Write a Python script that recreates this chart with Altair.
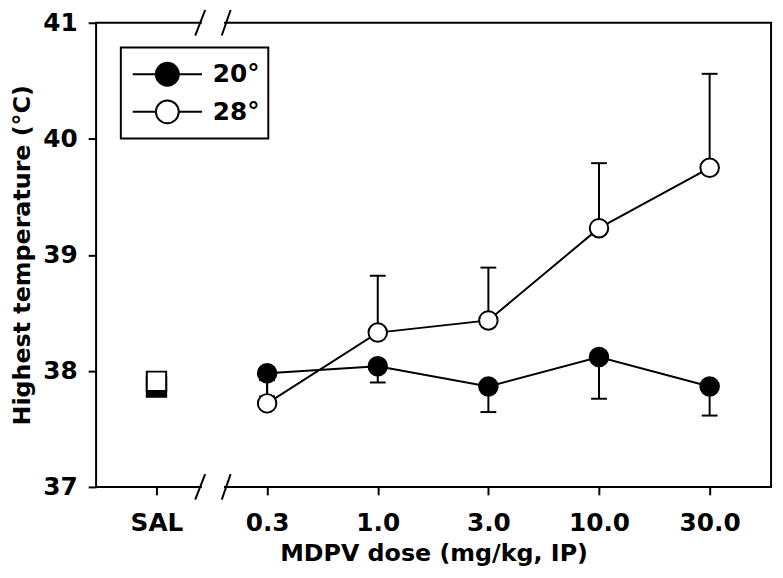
import json
import altair as alt
import pandas as pd

# ---- data ----
x_labels = ["SAL", "0.3", "1.0", "3.0", "10.0", "30.0"]
x_pos = [0, 1, 2, 3, 4, 5]
dose_pos = [1, 2, 3, 4, 5]
series_names = ["20°", "28°"]

t20_mean = [37.98, 38.04, 37.865, 38.12, 37.865]
t20_sem = [0.20, 0.14, 0.22, 0.36, 0.25]
t28_mean = [37.72, 38.33, 38.435, 39.23, 39.75]
t28_sem = [0.20, 0.49, 0.455, 0.56, 0.81]

sal_pos = [0, 0]
sal_mean = [37.86, 37.91]

# axis break decoration (x in axis-index units, y in °C)
break_x1 = [0.35, 0.59]
break_x2 = [0.44, 0.67]
break_gap = [0.41, 0.61]
break_axis_y = [37, 41]
break_half = 0.11

# ---- tables ----
rows = []
for p, m, s in zip(dose_pos, t20_mean, t20_sem):
    rows.append(dict(pos=p, series="20°", mean=m, lo=m - s, hi=m, cap=m - s))
for p, m, s in zip(dose_pos, t28_mean, t28_sem):
    rows.append(dict(pos=p, series="28°", mean=m, lo=m, hi=m + s, cap=m + s))
df = pd.DataFrame(rows)
sal_df = pd.DataFrame(dict(pos=sal_pos, series=series_names, mean=sal_mean))

slash_rows = []
for yb in break_axis_y:
    for a, b in zip(break_x1, break_x2):
        slash_rows.append(dict(x=a, x2=b, y=yb - break_half, y2=yb + break_half))
slash_df = pd.DataFrame(slash_rows)
gap_df = pd.DataFrame(dict(x=[break_gap[0]] * 2, x2=[break_gap[1]] * 2, y=break_axis_y))

FONT = "DejaVu Sans"

xscale = alt.Scale(domain=[-0.546, 5.555], nice=False, zero=False)
yscale = alt.Scale(domain=[37, 41], nice=False, zero=False)
fillscale = alt.Scale(domain=series_names, range=["black", "white"])

label_expr = json.dumps(x_labels) + "[datum.value]"

x_axis = alt.Axis(
    values=x_pos, labelExpr=label_expr, title="MDPV dose (mg/kg, IP)",
    grid=False, domain=False, tickSize=8, tickWidth=2, tickColor="black",
    labelFont=FONT, labelFontSize=25, labelFontWeight="bold", labelColor="black",
    labelPadding=16, labelFlush=False,
    titleFont=FONT, titleFontSize=24, titleFontWeight="bold", titleColor="black",
    titleBaseline="alphabetic", titleY=74,
)
y_axis = alt.Axis(
    values=[37, 38, 39, 40, 41], format="d", title="Highest temperature (°C)",
    grid=False, domain=False, tickSize=8, tickWidth=2, tickColor="black",
    labelFont=FONT, labelFontSize=25, labelFontWeight="bold", labelColor="black",
    labelPadding=11,
    titleFont=FONT, titleFontSize=24, titleFontWeight="bold", titleColor="black",
    titleBaseline="alphabetic", titleX=-67,
)

legend_path = ("M-1,0H-0.33M0.33,0H1"
               "M-0.33,0A0.33,0.33 0 1,0 0.33,0A0.33,0.33 0 1,0 -0.33,0Z")
legend = alt.Legend(
    title=None, orient="none", legendX=25, legendY=25,
    symbolType=legend_path, symbolSize=4900, symbolStrokeColor="black",
    symbolStrokeWidth=2, clipHeight=38, rowPadding=0, padding=8,
    symbolOffset=3, labelOffset=10, labelFont=FONT, labelFontSize=25,
    labelFontWeight="bold", labelColor="black", strokeColor="black",
)

X = alt.X("pos:Q", scale=xscale, axis=x_axis)
Y = alt.Y("mean:Q", scale=yscale, axis=y_axis)

bars = alt.Chart(df).mark_rule(color="black", strokeWidth=2).encode(
    x=alt.X("pos:Q", scale=xscale), y=alt.Y("lo:Q", scale=yscale), y2="hi:Q"
)
caps = alt.Chart(df).mark_rule(color="black", strokeWidth=2, xOffset=-8, x2Offset=8).encode(
    x=alt.X("pos:Q", scale=xscale), x2="pos:Q", y=alt.Y("cap:Q", scale=yscale)
)
lines = alt.Chart(df).mark_line(color="black", strokeWidth=2).encode(
    x=X, y=Y, detail="series:N", order="pos:Q"
)
squares = alt.Chart(sal_df).mark_square(size=384, stroke="black", strokeWidth=2, opacity=1).encode(
    x=X, y=Y, fill=alt.Fill("series:N", scale=fillscale, legend=legend)
)
circles = alt.Chart(df).mark_circle(size=350, stroke="black", strokeWidth=2, opacity=1).encode(
    x=X, y=Y, fill=alt.Fill("series:N", scale=fillscale, legend=legend)
)
gaps = alt.Chart(gap_df).mark_rule(color="white", strokeWidth=5).encode(
    x=alt.X("x:Q", scale=xscale), x2="x2:Q", y=alt.Y("y:Q", scale=yscale)
)
slashes = alt.Chart(slash_df).mark_rule(color="black", strokeWidth=2).encode(
    x=alt.X("x:Q", scale=xscale), x2="x2:Q",
    y=alt.Y("y:Q", scale=yscale), y2="y2:Q"
)

chart = alt.layer(bars, caps, lines, squares, circles, gaps, slashes).properties(
    width=682, height=469,
    autosize=alt.AutoSizeParams(type="none"),
    padding={"left": 89, "top": 12, "right": 4, "bottom": 79},
).configure_view(
    stroke="black", strokeWidth=2
).configure_legend(
    strokeWidth=2
)

chart.save("out.html", embed_options={"renderer": "svg", "actions": False})
